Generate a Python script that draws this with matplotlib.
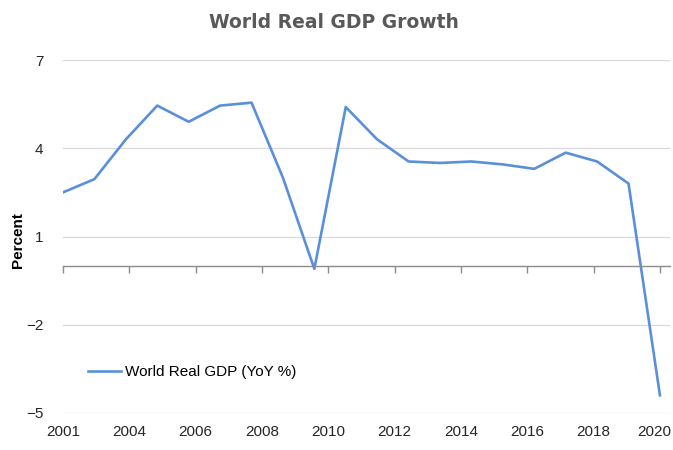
import numpy as np
import matplotlib.pyplot as plt
from matplotlib.transforms import offset_copy

years = np.arange(2001, 2021)
gdp_growth = [2.5, 2.95, 4.3, 5.45, 4.9, 5.45, 5.55, 3.0, -0.1, 5.4,
              4.3, 3.55, 3.5, 3.55, 3.45, 3.3, 3.85, 3.55, 2.8, -4.4]
tick_labels = ['2001', '2004', '2006', '2008', '2010',
               '2012', '2014', '2016', '2018', '2020']
y_ticks = [7, 4, 1, -2, -5]

line_color = '#5a8fdb'
axis_gray = '#8c8c8c'

plt.rcParams['font.family'] = ['Liberation Sans', 'DejaVu Sans']

fig = plt.figure(figsize=(6.73, 4.5), dpi=100)
ax = fig.add_axes([63 / 673, 1 - 413 / 450, 607 / 673, 353 / 450])

ax.plot(years, gdp_growth, color=line_color, lw=1.9, label='World Real GDP (YoY %)')

ax.set_ylim(-5, 7)
ax.set_xlim(years[0], years[-1] + 0.32)
ax.set_yticks(y_ticks)
ax.grid(axis='y', color='#d9d9d9', lw=0.9)
ax.set_axisbelow(True)

for s in ['top', 'right', 'left']:
    ax.spines[s].set_visible(False)
# zero line with tick marks hanging below it
ax.spines['bottom'].set_position(('data', 0))
ax.spines['bottom'].set_color(axis_gray)
ax.spines['bottom'].set_linewidth(1.0)
tick_pos = np.linspace(years[0], years[-1], len(tick_labels))
ax.set_xticks(tick_pos)
ax.tick_params(axis='x', direction='out', length=5, color=axis_gray,
               width=1.0, labelbottom=False)
ax.tick_params(axis='y', length=0, pad=14, labelsize=11, labelcolor='#262626')

# year labels along the bottom edge (last one nudged in so it stays on the canvas)
for i, (x, lab) in enumerate(zip(tick_pos, tick_labels)):
    tr = ax.get_xaxis_transform()
    if i == len(tick_labels) - 1:
        tr = offset_copy(tr, fig=fig, x=-6, units='dots')
    ax.text(x, -0.035, lab, transform=tr,
            ha='center', va='top', fontsize=11, color='#262626')

ax.legend(loc='center left', bbox_to_anchor=(0.041, 0.116), frameon=False,
          handlelength=2.2, handletextpad=0.2, borderpad=0, borderaxespad=0,
          fontsize=11)

fig.text(18 / 673, 1 - 240 / 450, 'Percent', rotation=90, ha='center',
         va='center', fontsize=11, fontweight='bold', color='black')
fig.text(334 / 673, 1 - 22 / 450, 'World Real GDP Growth', ha='center',
         va='center', fontsize=13.5, fontweight='bold', color='#595959',
         family='DejaVu Sans')

fig.savefig('out.png', dpi=100)
